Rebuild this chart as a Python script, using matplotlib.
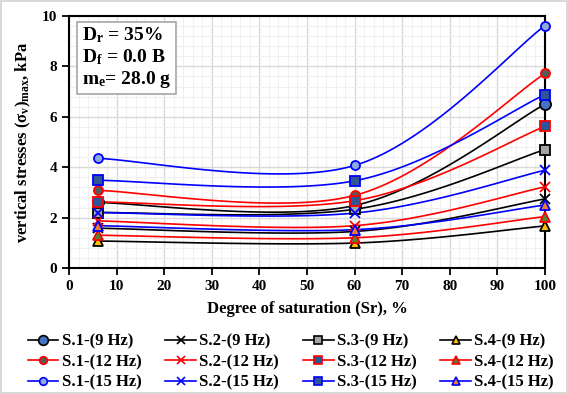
import numpy as np
import matplotlib
matplotlib.use("Agg")
import matplotlib.pyplot as plt
from matplotlib.ticker import MultipleLocator

plt.rcParams['font.family'] = ['Liberation Serif', 'DejaVu Serif']
plt.rcParams['font.weight'] = 'bold'
plt.rcParams['mathtext.fontset'] = 'custom'
plt.rcParams['mathtext.rm'] = 'Liberation Serif:bold'
plt.rcParams['mathtext.bf'] = 'Liberation Serif:bold'
plt.rcParams['mathtext.it'] = 'Liberation Serif:bold'

# ---- data ----
saturation = [6, 60, 100]
s1_9 = [2.60, 2.48, 6.50]
s2_9 = [1.58, 1.45, 2.74]
s3_9 = [2.20, 2.33, 4.70]
s4_9 = [1.07, 0.99, 1.67]
s1_12 = [3.08, 2.88, 7.72]
s2_12 = [1.87, 1.68, 3.22]
s3_12 = [2.62, 2.67, 5.62]
s4_12 = [1.30, 1.20, 2.04]
s1_15 = [4.35, 4.07, 9.62]
s2_15 = [2.20, 2.18, 3.88]
s3_15 = [3.48, 3.46, 6.88]
s4_15 = [1.68, 1.52, 2.50]

labels = ['S.1-(9 Hz)', 'S.2-(9 Hz)', 'S.3-(9 Hz)', 'S.4-(9 Hz)',
          'S.1-(12 Hz)', 'S.2-(12 Hz)', 'S.3-(12 Hz)', 'S.4-(12 Hz)',
          'S.1-(15 Hz)', 'S.2-(15 Hz)', 'S.3-(15 Hz)', 'S.4-(15 Hz)']
series = [s1_9, s2_9, s3_9, s4_9, s1_12, s2_12, s3_12, s4_12,
          s1_15, s2_15, s3_15, s4_15]

line_colors = ['black'] * 4 + ['#FF0000'] * 4 + ['#0000FF'] * 4
markers = ['o', 'x', 's', '^'] * 3
face_colors = ['#4472C4', 'black', '#A5A5A5', '#FFC000',
               '#595959', '#FF0000', '#2F5597', '#548235',
               '#8FAADC', '#0000FF', '#2F5597', '#ED7D31']
msizes = [8, 7, 6.5, 7, 6.5, 7, 6.5, 6.5, 6.5, 7, 6.5, 6.5]
leg_msizes = [7, 6, 5.5, 6, 5.5, 6, 5.5, 5.5, 5.5, 6, 5.5, 5.5]


def smooth(xs, ys, n=60):
    P = np.column_stack([xs, ys]).astype(float)
    m = len(P)
    out = []
    for i in range(m - 1):
        p0 = P[i - 1] if i > 0 else P[i]
        p1 = P[i]
        p2 = P[i + 1]
        p3 = P[i + 2] if i + 2 < m else P[i + 1]
        c1 = p1 + (p2 - p0) / 6.0
        c2 = p2 - (p3 - p1) / 6.0
        t = np.linspace(0, 1, n)[:, None]
        b = ((1 - t) ** 3) * p1 + 3 * ((1 - t) ** 2) * t * c1 + 3 * (1 - t) * t ** 2 * c2 + t ** 3 * p2
        out.append(b if i == 0 else b[1:])
    out = np.vstack(out)
    return out[:, 0], out[:, 1]


fig = plt.figure(figsize=(5.68, 3.94), dpi=100)
fig.patch.set_edgecolor('#D9D9D9')
fig.patch.set_linewidth(1.5)
ax = fig.add_axes([0.1215, 0.3198, 0.838, 0.6396])

handles = []
for ys, lab, lc, mk, fc, ms, lms in zip(series, labels, line_colors, markers, face_colors, msizes, leg_msizes):
    sx, sy = smooth(saturation, ys)
    ax.plot(sx, sy, color=lc, lw=1.2, zorder=3)
    if mk == 'x':
        ax.plot(saturation, ys, ls='none', marker='x', color=lc, ms=ms, mew=1.3, zorder=4, clip_on=False)
        h, = ax.plot([], [], color=lc, lw=1.2, marker='x', ms=lms, mew=1.2)
    else:
        ax.plot(saturation, ys, ls='none', marker=mk, mfc=fc, mec=lc, ms=ms, mew=1.3, zorder=4, clip_on=False)
        h, = ax.plot([], [], color=lc, lw=1.2, marker=mk, mfc=fc, mec=lc, ms=lms, mew=1.2)
    handles.append(h)

ax.set_xlim(0, 100)
ax.set_ylim(0, 10)
ax.xaxis.set_major_locator(MultipleLocator(10))
ax.xaxis.set_minor_locator(MultipleLocator(2))
ax.yaxis.set_major_locator(MultipleLocator(2))
ax.yaxis.set_minor_locator(MultipleLocator(0.4))
ax.grid(which='major', color='#D9D9D9', lw=1.0, zorder=0)
ax.grid(which='minor', color='#F0F0F0', lw=0.8, zorder=0)
ax.set_axisbelow(True)
ax.tick_params(which='major', direction='out', length=5, width=1.3, labelsize=11, colors='black')
ax.tick_params(which='minor', length=0)
for lab in ax.get_xticklabels() + ax.get_yticklabels():
    lab.set_fontweight('bold')
for sp in ax.spines.values():
    sp.set_linewidth(1.5)
    sp.set_color('black')

ax.set_xlabel('Degree of saturation (Sr), %', fontsize=12, fontweight='bold', labelpad=6)
ax.set_ylabel(r'vertical stresses $(\sigma_{v})_{max}$, kPa', fontsize=12, fontweight='bold', labelpad=6)

ax.text(0.027, 0.962,
        r'$\mathrm{D_{r}}$ = 35%' + '\n' + r'$\mathrm{D_{f}}$ = 0.0 B' + '\n' + r'$\mathrm{m_{e}}$= 28.0 g',
        transform=ax.transAxes, va='top', ha='left', fontsize=14, fontweight='bold',
        linespacing=1.12,
        bbox=dict(boxstyle='square,pad=0.25', fc='white', ec='#A6A6A6', lw=1.2), zorder=6)

# order handles column-wise for a 4-column legend read row-wise
order = [0, 4, 8, 1, 5, 9, 2, 6, 10, 3, 7, 11]
leg = fig.legend([handles[i] for i in order], [labels[i] for i in order],
                 loc='lower center', bbox_to_anchor=(0.512, -0.03), ncol=4, frameon=False,
                 prop={'family': 'Liberation Serif', 'weight': 'bold', 'size': 12},
                 handlelength=1.85, handletextpad=0.2, columnspacing=1.42, labelspacing=0.28)

fig.savefig('out.png', dpi=100, edgecolor=fig.get_edgecolor())
